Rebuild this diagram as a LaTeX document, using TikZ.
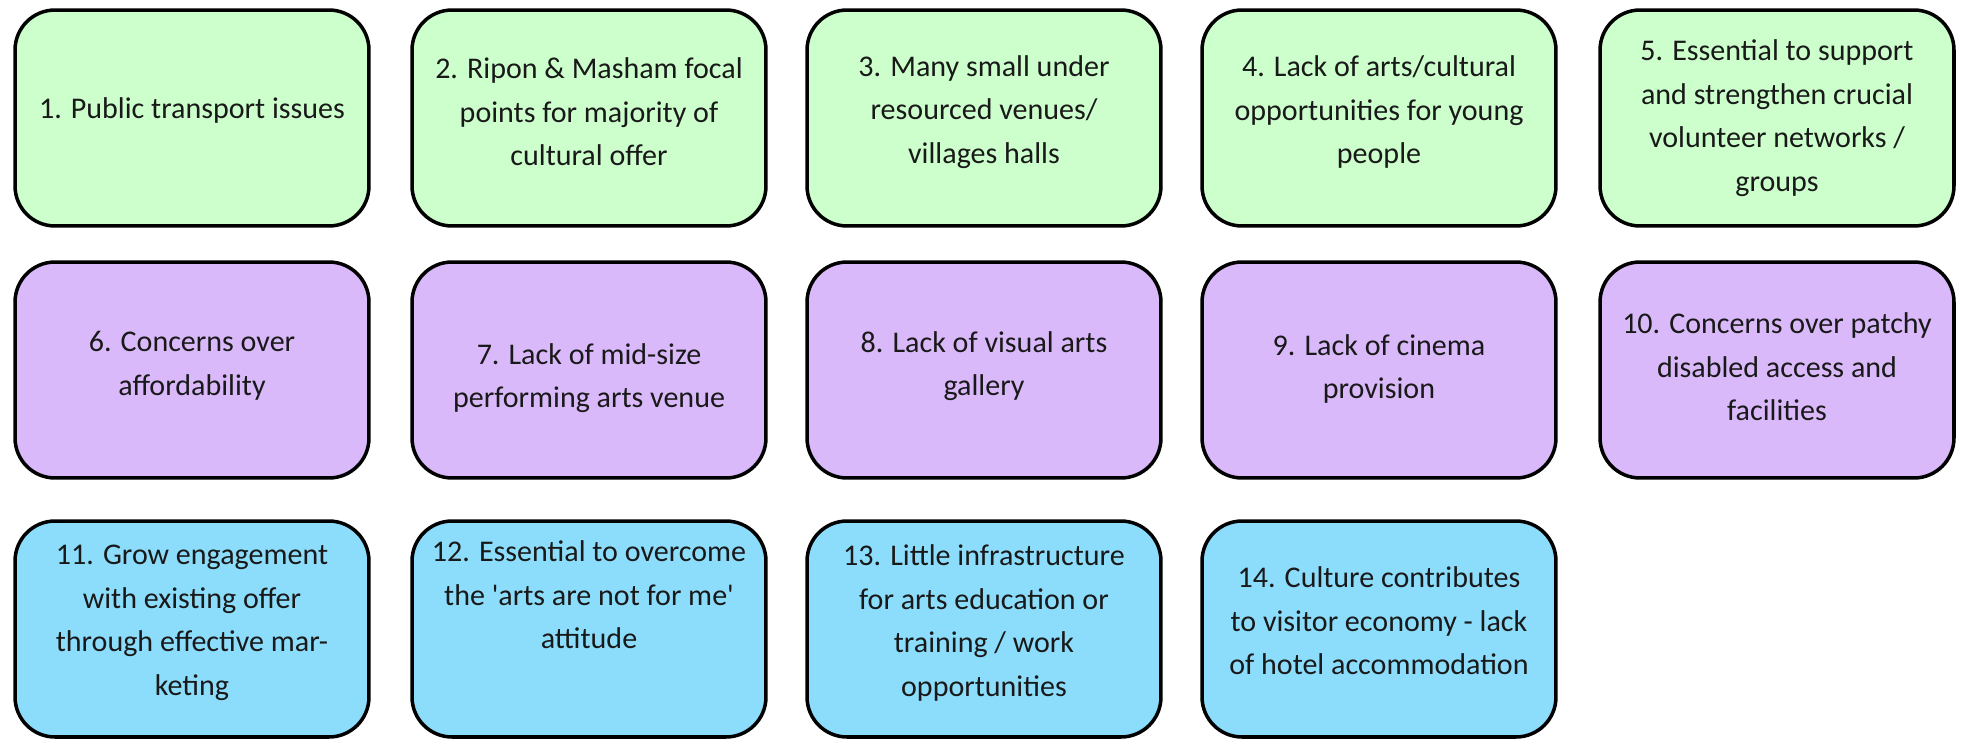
\documentclass[tikz,border=0pt]{standalone}
\usepackage{fontspec}
\setmainfont{Carlito}
\usepackage{xcolor}
\usepackage{tikz}

\definecolor{issuegreen}{RGB}{204,255,204}
\definecolor{issuepurple}{RGB}{218,185,250}
\definecolor{issueblue}{RGB}{140,221,252}

\tikzset{
    issue/.style={draw=black, line width=2pt, rounded corners=0.8cm,
        minimum width=7.08cm, minimum height=4.32cm},
    grn/.style={issue, fill=issuegreen},
    prp/.style={issue, fill=issuepurple},
    blu/.style={issue, fill=issueblue},
    txt/.style={align=center, inner sep=0pt, text=black!90,
        font=\fontsize{17.1pt}{24.8pt}\selectfont}
}

\begin{document}
\begin{tikzpicture}[x=0.02cm, y=-0.02cm]
        \useasboundingbox (0, 0) rectangle (1966, 741);

        % first row
        \node[grn] (b1) at (192, 118) {};
        \node[grn] (b2) at (589, 118) {};
        \node[grn] (b3) at (984, 118) {};
        \node[grn] (b4) at (1379, 118) {};
        \node[grn] (b5) at (1777, 118) {};

        \node[txt] (t1) at ([yshift=0.16cm]b1.center) {1. Public transport issues};
        \node[txt] (t2) at ([yshift=0.12cm]b2.center) {2. Ripon \& Masham focal\\points for majority of\\cultural offer};
        \node[txt] (t3) at ([yshift=0.12cm]b3.center) {3. Many small under\\resourced venues/\\villages halls};
        \node[txt] (t4) at ([yshift=0.12cm]b4.center) {4. Lack of arts/cultural\\opportunities for young\\people};
        \node[txt] (t5) at (b5.center) {5. Essential to support\\and strengthen crucial\\volunteer networks /\\groups};

        % second row
        \node[prp] (b6) at (192, 370) {};
        \node[prp] (b7) at (589, 370) {};
        \node[prp] (b8) at (984, 370) {};
        \node[prp] (b9) at (1379, 370) {};
        \node[prp] (b10) at (1777, 370) {};

        \node[txt] (t6) at ([yshift=0.08cm]b6.center) {6. Concerns over\\affordability};
        \node[txt] (t7) at ([yshift=-0.16cm]b7.center) {7. Lack of mid-size\\performing arts venue};
        \node[txt] (t8) at ([yshift=0.08cm]b8.center) {8. Lack of visual arts\\gallery};
        \node[txt] (t9) at ([yshift=0.02cm]b9.center) {9. Lack of cinema\\provision};
        \node[txt] (t10) at ([yshift=0.06cm]b10.center) {10. Concerns over patchy\\disabled access and\\facilities};

        % third row
        \node[blu] (b11) at (192, 629) {};
        \node[blu] (b12) at (589, 629) {};
        \node[blu] (b13) at (984, 629) {};
        \node[blu] (b14) at (1379, 629) {};

        \node[txt] (t11) at ([yshift=0.12cm]b11.center) {11. Grow engagement\\with existing offer\\through effective mar-\\keting};
        \node[txt] (t12) at ([yshift=0.68cm]b12.center) {12. Essential to overcome\\the \textquotesingle arts are not for me\textquotesingle\\attitude};
        \node[txt] (t13) at ([yshift=0.12cm]b13.center) {13. Little infrastructure\\for arts education or\\training / work\\opportunities};
        \node[txt] (t14) at ([yshift=0.16cm]b14.center) {14. Culture contributes\\to visitor economy - lack\\of hotel accommodation};
\end{tikzpicture}
\end{document}
